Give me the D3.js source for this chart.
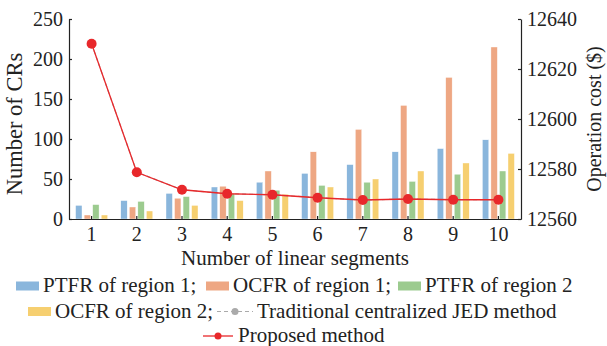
<!DOCTYPE html>
<html>
<head>
<meta charset="utf-8">
<script src="https://cdn.jsdelivr.net/npm/d3@7"></script>
<style>
  body { margin: 0; background: #fff; }
  svg text { font-family: "Liberation Serif", "Times New Roman", serif; fill: #222; }
</style>
</head>
<body>
<div class="canvas"></div>
<script>
// data
var segments = [1, 2, 3, 4, 5, 6, 7, 8, 9, 10];
var ptfr1 = [17, 23, 32, 40, 46, 57, 68, 84, 88, 99];
var ocfr1 = [5, 15, 26, 41, 60, 84, 112, 142, 177, 215];
var ptfr2 = [18, 22, 28, 32, 36, 42, 46, 47, 56, 60];
var ocfr2 = [5, 10, 17, 23, 31, 40, 50, 60, 70, 82];
var proposedCost = [12630.1, 12578.7, 12571.7, 12570.1, 12569.7, 12568.5, 12567.6, 12568, 12567.7, 12567.7];
var traditionalCost = [12630.1, 12578.7, 12571.7, 12570.1, 12569.7, 12568.5, 12567.6, 12568, 12567.7, 12567.7];
var leftTicks = [0, 50, 100, 150, 200, 250];
var rightTicks = [12560, 12580, 12600, 12620, 12640];

var seriesNames = ["PTFR of region 1;", "OCFR of region 1;", "PTFR of region 2", "OCFR of region 2;"];
var seriesData = [ptfr1, ocfr1, ptfr2, ocfr2];
var colors = ["#8ab6dc", "#eea783", "#9ccb8f", "#f6cf70"];

(function() {

  var W = 607, H = 346;
  var pl = 69, pr = 521, pt = 19, pb = 219;

  var svg = d3.select(".canvas").append("svg")
    .attr("width", W).attr("height", H);

  var x = d3.scaleBand().domain(segments).range([pl, pr]);
  var x1 = d3.scaleBand().domain(d3.range(4)).range([-16, 16]).paddingInner(0.25);
  var yL = d3.scaleLinear().domain([0, 250]).range([pb, pt]);
  var yR = d3.scaleLinear().domain([12560, 12640]).range([pb, pt]);
  var cx = function(i) { return x(segments[i]) + x.bandwidth() / 2; };

  // bars
  var groups = svg.append("g").selectAll("g")
    .data(segments).enter().append("g")
    .attr("transform", function(d, i) { return "translate(" + cx(i) + ",0)"; });

  groups.selectAll("rect")
    .data(function(d, i) { return seriesData.map(function(s, k) { return { k: k, v: s[i] }; }); })
    .enter().append("rect")
    .attr("x", function(d) { return x1(d.k); })
    .attr("width", x1.bandwidth())
    .attr("y", function(d) { return yL(d.v); })
    .attr("height", function(d) { return pb - yL(d.v); })
    .attr("fill", function(d) { return colors[d.k]; })
    .attr("stroke", "#fff").attr("stroke-width", 0.4);

  // axes
  var fs = "20px";
  var axL = svg.append("g").attr("transform", "translate(" + pl + ",0)")
    .call(d3.axisLeft(yL).tickValues(leftTicks).tickSizeInner(-3).tickSizeOuter(0).tickPadding(6));
  var axR = svg.append("g").attr("transform", "translate(" + pr + ",0)")
    .call(d3.axisRight(yR).tickValues(rightTicks).tickFormat(d3.format("d")).tickSizeInner(-3).tickSizeOuter(0).tickPadding(6));
  var axB = svg.append("g").attr("transform", "translate(0," + pb + ")")
    .call(d3.axisBottom(x).tickSizeInner(-3).tickSizeOuter(0).tickPadding(8));

  [axL, axR, axB].forEach(function(a) {
    a.selectAll("path, line").attr("stroke", "#222").attr("stroke-width", 1.2);
    a.selectAll("text").style("font-size", fs).style("font-family", "Liberation Serif").attr("fill", "#222");
  });
  axB.selectAll("text").attr("dy", "0.71em");

  // lines
  var line = d3.line()
    .x(function(d, i) { return cx(i); })
    .y(function(d) { return yR(d); });

  svg.append("path").datum(traditionalCost)
    .attr("d", line).attr("fill", "none")
    .attr("stroke", "#aaa").attr("stroke-width", 1.2).attr("stroke-dasharray", "4,3");
  svg.append("g").selectAll("circle").data(traditionalCost).enter().append("circle")
    .attr("cx", function(d, i) { return cx(i); })
    .attr("cy", function(d) { return yR(d); }).attr("r", 3.5).attr("fill", "#aaa");

  svg.append("path").datum(proposedCost)
    .attr("d", line).attr("fill", "none")
    .attr("stroke", "#e8282b").attr("stroke-width", 1.3);
  svg.append("g").selectAll("circle").data(proposedCost).enter().append("circle")
    .attr("cx", function(d, i) { return cx(i); })
    .attr("cy", function(d) { return yR(d); }).attr("r", 5).attr("fill", "#e8282b");

  // axis titles
  svg.append("text").attr("transform", "translate(22,124)rotate(-90)")
    .attr("text-anchor", "middle").style("font-size", "22.5px").text("Number of CRs");
  svg.append("text").attr("transform", "translate(601,119)rotate(-90)")
    .attr("text-anchor", "middle").style("font-size", "20px").text("Operation cost ($)");
  svg.append("text").attr("x", 295).attr("y", 265)
    .attr("text-anchor", "middle").style("font-size", "21px").text("Number of linear segments");

  // legend
  var lg = svg.append("g").style("font-size", "21px");
  var swatches = [
    { k: 0, x: 16, y: 286 },
    { k: 1, x: 206, y: 286 },
    { k: 2, x: 398, y: 286 },
    { k: 3, x: 28, y: 311.5 }
  ];
  swatches.forEach(function(s) {
    lg.append("rect").attr("x", s.x).attr("y", s.y - 4.5).attr("width", 23).attr("height", 9)
      .attr("fill", colors[s.k]);
    lg.append("text").attr("x", s.x + 27).attr("y", s.y + 6).text(seriesNames[s.k]);
  });

  lg.append("line").attr("x1", 217).attr("x2", 253).attr("y1", 311.5).attr("y2", 311.5)
    .attr("stroke", "#aaa").attr("stroke-width", 1.2).attr("stroke-dasharray", "4,3");
  lg.append("circle").attr("cx", 235).attr("cy", 311.5).attr("r", 3.5).attr("fill", "#aaa");
  lg.append("text").attr("x", 257).attr("y", 317.5).text("Traditional centralized JED method");

  lg.append("line").attr("x1", 203).attr("x2", 233).attr("y1", 336).attr("y2", 336)
    .attr("stroke", "#e8282b").attr("stroke-width", 1.3);
  lg.append("circle").attr("cx", 218).attr("cy", 336).attr("r", 3.5).attr("fill", "#e8282b");
  lg.append("text").attr("x", 238).attr("y", 341.5).text("Proposed method");

})();
</script>
</body>
</html>
